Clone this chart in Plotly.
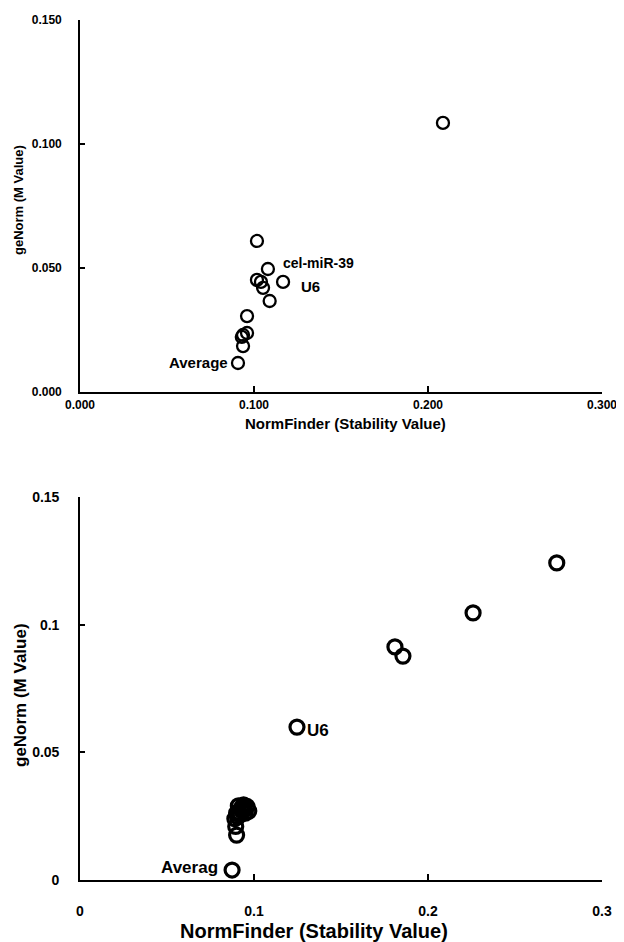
import plotly.graph_objects as go

# ---- data: top panel ----
top_x = [0.2086, 0.1017, 0.1080, 0.1167, 0.1017, 0.1040, 0.1052, 0.1090,
         0.0960, 0.0937, 0.0960, 0.0930, 0.0937, 0.0908]
top_y = [0.1085, 0.0609, 0.0496, 0.0444, 0.0452, 0.0444, 0.0420, 0.0367,
         0.0306, 0.0230, 0.0238, 0.0222, 0.0185, 0.0117]
top_names = ["", "", "cel-miR-39", "U6", "", "", "", "",
             "", "", "", "", "", "Average"]

# ---- data: bottom panel ----
bot_x = [0.2740, 0.2259, 0.1810, 0.1856, 0.1247,
         0.0910, 0.0940, 0.0960, 0.0970, 0.0930, 0.0900, 0.0920, 0.0950,
         0.0925, 0.0945, 0.0915, 0.0935, 0.0905,
         0.0890, 0.0895, 0.0900, 0.0874]
bot_y = [0.1242, 0.1046, 0.0913, 0.0877, 0.0599,
         0.0290, 0.0294, 0.0288, 0.0270, 0.0272, 0.0262, 0.0255, 0.0262,
         0.0280, 0.0275, 0.0265, 0.0285, 0.0248,
         0.0240, 0.0210, 0.0176, 0.0039]
bot_names = ["", "", "", "", "U6",
             "", "", "", "", "", "", "", "",
             "", "", "", "", "",
             "", "", "", "Averag"]

x_ticks = [0, 0.1, 0.2, 0.3]
x_ticklabels_top = ["0.000", "0.100", "0.200", "0.300"]
y_ticks = [0, 0.05, 0.1, 0.15]
y_ticklabels_top = ["0.000", "0.050", "0.100", "0.150"]
x_ticklabels_bot = ["0", "0.1", "0.2", "0.3"]
y_ticklabels_bot = ["0", "0.05", "0.1", "0.15"]

FONT = "Liberation Sans"
OFF = 8                      # page body margin
W, H = 624 - OFF, 942 - OFF


def px(x):
    return (x - OFF) / W


def py(y):
    return 1 - (y - OFF) / H


fig = go.Figure()
fig.add_trace(go.Scatter(
    x=top_x, y=top_y, mode="markers", xaxis="x", yaxis="y",
    marker=dict(symbol="circle-open", size=12, color="black",
                line=dict(width=2.3, color="black")),
    showlegend=False, hoverinfo="skip", cliponaxis=False))
fig.add_trace(go.Scatter(
    x=bot_x, y=bot_y, mode="markers", xaxis="x2", yaxis="y2",
    marker=dict(symbol="circle-open", size=14, color="black",
                line=dict(width=3.2, color="black")),
    showlegend=False, hoverinfo="skip", cliponaxis=False))

# point labels
shifts_top = {"cel-miR-39": (13, 6), "U6": (16, -5), "Average": (-8, 0)}
sizes_top = {"cel-miR-39": 14, "U6": 15, "Average": 15}
for xv, yv, name in zip(top_x, top_y, top_names):
    if not name:
        continue
    dx, dy = shifts_top[name]
    fig.add_annotation(x=xv, y=yv, xref="x", yref="y", text="<b>" + name + "</b>",
                       showarrow=False, xanchor="left" if dx > 0 else "right",
                       yanchor="middle", xshift=dx, yshift=dy,
                       font=dict(family=FONT, size=sizes_top[name], color="black"))
shifts_bot = {"U6": (8, -3), "Averag": (-12, 3)}
for xv, yv, name in zip(bot_x, bot_y, bot_names):
    if not name:
        continue
    dx, dy = shifts_bot[name]
    fig.add_annotation(x=xv, y=yv, xref="x2", yref="y2", text="<b>" + name + "</b>",
                       showarrow=False, xanchor="left" if dx > 0 else "right",
                       yanchor="middle", xshift=dx, yshift=dy,
                       font=dict(family=FONT, size=17, color="black"))

# axis titles
title_common = dict(xref="paper", yref="paper", showarrow=False,
                    xanchor="center", yanchor="middle")
fig.add_annotation(x=px(345), y=py(423), text="<b>NormFinder (Stability Value)</b>",
                   font=dict(family=FONT, size=15, color="black"), **title_common)
fig.add_annotation(x=px(18), y=py(200), text="<b>geNorm (M Value)</b>", textangle=-90,
                   font=dict(family=FONT, size=13, color="black"), **title_common)
fig.add_annotation(x=px(314), y=py(931), text="<b>NormFinder (Stability Value)</b>",
                   font=dict(family=FONT, size=20, color="black"), **title_common)
fig.add_annotation(x=px(20), y=py(695), text="<b>geNorm (M Value)</b>", textangle=-90,
                   font=dict(family=FONT, size=17, color="black"), **title_common)

axis_common = dict(showgrid=False, zeroline=False, showline=True,
                   linecolor="black", linewidth=1.6, ticks="inside",
                   tickcolor="black", tickwidth=1.6, mirror=False,
                   automargin=False)

xd = [px(80), px(602)]
fig.update_layout(
    width=W, height=H, margin=dict(l=0, r=0, t=0, b=0, autoexpand=False),
    paper_bgcolor="white", plot_bgcolor="white",
    xaxis=dict(domain=xd, range=[0, 0.3], anchor="y",
               tickvals=x_ticks, ticktext=x_ticklabels_top, ticklen=6,
               tickfont=dict(family=FONT, size=12, color="black", weight="bold"),
               ticklabelstandoff=1, **axis_common),
    yaxis=dict(domain=[py(392), py(20)], range=[0, 0.15], anchor="x",
               tickvals=y_ticks, ticktext=y_ticklabels_top, ticklen=5,
               tickfont=dict(family=FONT, size=12, color="black", weight="bold"),
               ticklabelstandoff=14, **axis_common),
    xaxis2=dict(domain=xd, range=[0, 0.3], anchor="y2",
                tickvals=x_ticks, ticktext=x_ticklabels_bot, ticklen=6,
                tickfont=dict(family=FONT, size=14, color="black", weight="bold"),
                ticklabelstandoff=17, **axis_common),
    yaxis2=dict(domain=[py(880), py(497)], range=[0, 0.15], anchor="x2",
                tickvals=y_ticks, ticktext=y_ticklabels_bot, ticklen=5,
                tickfont=dict(family=FONT, size=14, color="black", weight="bold"),
                ticklabelstandoff=16, **axis_common),
)

fig.write_html("out.html")
